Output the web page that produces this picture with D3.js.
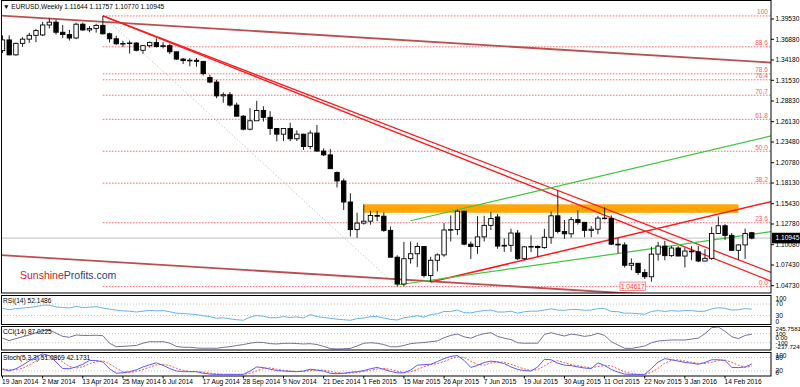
<!DOCTYPE html>
<html>
<head>
<meta charset="utf-8">
<script src="https://d3js.org/d3.v7.min.js"></script>
<style>
  body { margin: 0; background: #fff; }
  svg { display: block; }
  text { font-family: "Liberation Sans", Arial, sans-serif; }
</style>
</head>
<body>
<div id="vis"></div>
<script>
const WIDTH = 800;
const HEIGHT = 387;

// Velas semanales EURUSD, 19 Jan 2014 ... 13 Mar 2016 (una por semana)
const OPEN = [1.3540,1.3680,1.3485,1.3635,1.3690,1.3740,1.3745,1.3875,1.3912,1.3780,
  1.3750,1.3705,1.3885,1.3810,1.3830,1.3870,1.3760,1.3695,1.3630,1.3633,
  1.3640,1.3545,1.3605,1.3645,1.3595,1.3605,1.3525,1.3430,1.3410,1.3415,
  1.3400,1.3190,1.3130,1.2950,1.2965,1.2830,1.2685,1.2515,1.2625,1.2760,
  1.2670,1.2525,1.2450,1.2525,1.2390,1.2450,1.2290,1.2465,1.2230,1.2180,
  1.1950,1.1840,1.1565,1.1205,1.1290,1.1315,1.1390,1.1380,1.1195,1.0845,
  1.0495,1.0825,1.0890,1.0985,1.0605,1.0805,1.0875,1.1200,1.1205,1.1445,
  1.1015,1.0985,1.1110,1.1260,1.1370,1.0990,1.1000,1.1160,1.0825,1.0980,
  1.0985,1.0970,1.1105,1.1385,1.1180,1.1150,1.1335,1.1300,1.1195,1.1210,
  1.1355,1.1350,1.1015,1.1005,1.0740,1.0765,1.0645,1.0590,1.0885,1.0990,
  1.0865,1.0965,1.0860,1.0925,1.0915,1.0795,1.0830,1.1155,1.1255,1.1130,
  1.0935,1.1005,1.11644];
const HIGH = [1.3740,1.3740,1.3645,1.3715,1.3773,1.3825,1.3915,1.3967,1.3946,1.3875,
  1.3810,1.3905,1.3905,1.3860,1.3890,1.3993,1.3775,1.3735,1.3670,1.3670,
  1.3650,1.3615,1.3660,1.3700,1.3650,1.3630,1.3530,1.3445,1.3445,1.3445,
  1.3400,1.3225,1.3160,1.2995,1.3000,1.2860,1.2700,1.2790,1.2885,1.2815,
  1.2750,1.2530,1.2530,1.2600,1.2500,1.2455,1.2500,1.2570,1.2265,1.2255,
  1.1965,1.1870,1.1680,1.1425,1.1535,1.1450,1.1450,1.1428,1.1245,1.0870,
  1.1045,1.1050,1.1035,1.0990,1.0850,1.0895,1.1290,1.1390,1.1467,1.1450,
  1.1050,1.1380,1.1385,1.1435,1.1410,1.1090,1.1215,1.1200,1.0990,1.1130,
  1.1000,1.1215,1.1440,1.1715,1.1330,1.1370,1.1460,1.1300,1.1250,1.1385,
  1.1495,1.1390,1.1095,1.1040,1.0830,1.0770,1.0690,1.0980,1.1045,1.1060,
  1.0990,1.0990,1.0970,1.0990,1.0990,1.0950,1.1240,1.1375,1.1275,1.1160,
  1.1010,1.1218,1.11757];
const LOW = [1.3508,1.3480,1.3475,1.3590,1.3642,1.3650,1.3730,1.3830,1.3750,1.3705,
  1.3672,1.3690,1.3800,1.3780,1.3775,1.3750,1.3647,1.3615,1.3585,1.3502,
  1.3530,1.3500,1.3580,1.3580,1.3570,1.3495,1.3420,1.3365,1.3335,1.3330,
  1.3215,1.3115,1.2920,1.2860,1.2810,1.2680,1.2500,1.2500,1.2625,1.2615,
  1.2440,1.2357,1.2360,1.2360,1.2360,1.2245,1.2255,1.2220,1.2165,1.2000,
  1.1755,1.1460,1.1115,1.1098,1.1270,1.1270,1.1315,1.1175,1.0840,1.04617,
  1.0463,1.0760,1.0715,1.0580,1.0520,1.0660,1.0850,1.1050,1.1135,1.1000,
  1.0820,1.0888,1.1050,1.1200,1.0955,1.0915,1.0915,1.0810,1.0805,1.0910,
  1.0850,1.0955,1.1020,1.1155,1.1085,1.1100,1.1270,1.1105,1.1105,1.1145,
  1.1340,1.1005,1.0895,1.0710,1.0675,1.0615,1.0560,1.0525,1.0800,1.0805,
  1.0850,1.0860,1.0710,1.0805,1.0780,1.0790,1.0810,1.1150,1.1070,1.0935,
  1.0810,1.0822,1.10770];
const CLOSE = [1.3680,1.3485,1.3635,1.3690,1.3740,1.3802,1.3875,1.3912,1.3780,1.3750,
  1.3705,1.3885,1.3810,1.3830,1.3870,1.3760,1.3695,1.3630,1.3633,1.3640,
  1.3545,1.3605,1.3645,1.3595,1.3605,1.3525,1.3430,1.3410,1.3415,1.3400,
  1.3240,1.3130,1.2950,1.2965,1.2830,1.2685,1.2515,1.2625,1.2760,1.2670,
  1.2525,1.2450,1.2525,1.2390,1.2450,1.2290,1.2465,1.2230,1.2180,1.2000,
  1.1840,1.1565,1.1205,1.1290,1.1315,1.1390,1.1380,1.1195,1.0845,1.0495,
  1.0825,1.0890,1.0985,1.0605,1.0805,1.0875,1.1200,1.1205,1.1445,1.1015,
  1.0985,1.1110,1.1260,1.1350,1.0990,1.1000,1.1160,1.0825,1.0980,1.0985,
  1.0970,1.1105,1.1385,1.1180,1.1150,1.1335,1.1300,1.1195,1.1210,1.1355,
  1.1350,1.1015,1.1005,1.0740,1.0765,1.0645,1.0590,1.0885,1.0990,1.0865,
  1.0965,1.0860,1.0925,1.0915,1.0795,1.0830,1.1155,1.1255,1.1130,1.0935,
  1.1005,1.1155,1.10945];

// Indicadores
const RSI = [55,50,54,56,58,61,66,66,60,58, 56,62,58,59,61,56,52,49,46,45,
  42,45,48,46,47,43,38,37,35,33, 29,26,20,22,18,15,13,24,30,27,
  22,22,26,23,25,21,33,26,23,20, 17,15,13,19,21,26,26,21,16,14,
  22,25,29,24,33,36,44,44,49,40, 39,44,47,49,42,42,45,38,43,45,
  45,49,53,49,48,51,51,48,49,54, 54,44,43,38,38,36,34,44,47,44,
  47,45,47,47,44,45,53,57,55,49, 50,54,52.1486];
const CCI = [0,-55,-10,33,70,120,165,180,110,40, 20,70,60,60,65,55,-110,-187,-180,-171,
  -160,-110,-77,-80,-77,-110,-180,-200,-200,-215, -222,-220,-222,-200,-187,-160,-140,-110,-90,-95,
  -120,-127,-115,-112,-118,-127,-120,-140,-180,-228, -237.7249,-232,-225,-170,-112,-100,-112,-140,-187,-190,
  -160,-120,-105,-95,-77,-60,10,60,92,30, 0,60,100,121,40,0,-30,-100,-112,-110,
  -110,80,121,80,48,90,70,40,60,108, 60,-77,-150,-222,-225,-200,-171,-100,-62,-50,
  -40,-40,-40,-20,0,100,231,245.7581,150,33, -10,60,87.0225];
const STOCH_K = [27,21,30,46,65,82,96,88,60,31, 30,38,50,67,67,60,30,10,12,17,
  25,38,48,56,45,31,20,17,17,17, 10,6,5,5,5,5,5,20,38,35,
  28,22,20,18,17,20,28,24,20,10, 8,10,14,17,22,30,36,27,18,12,
  12,24,46,48,50,62,75,85,89,67, 36,45,58,64,60,53,38,27,22,20,
  38,72,70,55,46,44,38,33,31,56, 45,27,15,6,5,5,5,31,60,75,
  70,64,58,55,50,58,70,70,67,36, 35,38,51.0869];
const STOCH_D = [30,25,26,32,47,64,81,89,81,60, 40,33,39,52,61,65,52,33,17,13,
  18,27,37,47,50,44,32,23,18,17, 15,11,7,5,5,5,5,10,21,31,
  34,28,23,20,18,18,22,24,24,18, 13,9,11,14,18,23,29,31,27,19,
  14,16,27,39,48,53,62,74,83,80, 64,49,46,56,61,59,50,39,29,23,
  27,43,60,66,57,48,43,38,34,40, 44,43,29,16,9,5,5,14,32,55,
  68,70,64,59,54,54,59,66,69,58, 46,36,42.1731];

const PRICE_TICKS = [1.39530,1.36880,1.34180,1.31530,1.28830,1.26130,1.23480,
  1.20780,1.18130,1.15430,1.12780,1.10080,1.07430,1.04730];
const DATE_LABELS = ["19 Jan 2014","2 Mar 2014","13 Apr 2014","25 May 2014","6 Jul 2014",
  "17 Aug 2014","28 Sep 2014","9 Nov 2014","21 Dec 2014","1 Feb 2015","15 Mar 2015",
  "26 Apr 2015","7 Jun 2015","19 Jul 2015","30 Aug 2015","11 Oct 2015","22 Nov 2015",
  "3 Jan 2016","14 Feb 2016"];
const DATE_STEP = 6; // una etiqueta cada 6 semanas
const FIBO_LEVELS = [0, 23.6, 38.2, 50.0, 61.8, 70.7, 76.4, 78.6, 88.6, 100];

// Lineas dibujadas por el analista: [barra, precio]
const FIBO_ANCHORS = [[15, 1.3993], [59, 1.04617]];
const CANAL_SUP = [[0, 1.39967], [112, 1.33998]];
const CANAL_INF = [[0, 1.08717], [112, 1.02747]];
const ROJA_1 = [[15, 1.3993], [83, 1.1715]];
const ROJA_2 = [[15, 1.3993], [112, 1.0632]];
const ROJA_ALZA = [[64, 1.0520], [112, 1.1510]];
const VERDE_SUP = [[61, 1.1321], [112, 1.2368]];
const VERDE_INF = [[59, 1.0482], [112, 1.1143]];
const ZONA = [[54, 1.1535], [110, 1.1425]];
const LAST_PRICE = 1.10945;
const LOW_LABEL = "1.04617";

// Geometria de los paneles
const AXIS_X = 771;
const MAIN = { top: 0, bottom: 293 };
const P_RSI = { top: 295, bottom: 324.5 };
const P_CCI = { top: 326, bottom: 350 };
const P_STO = { top: 352, bottom: 376 };

const SVG = d3.select("#vis")
  .append("svg")
  .attr("width", WIDTH)
  .attr("height", HEIGHT);

const n = OPEN.length;
const x = d3.scaleLinear().domain([0, n - 1]).range([2.5, 751.8]);
const y = d3.scaleLinear().domain([1.04730, 1.39530]).range([285.7, 19]);
const yRsi = d3.scaleLinear().domain([0, 100]).range([P_RSI.bottom - 0.5, P_RSI.top + 0.5]);
const yCci = d3.scaleLinear().domain([-237.7249, 245.7581]).range([P_CCI.bottom - 1, P_CCI.top + 1]);
const ySto = d3.scaleLinear().domain([0, 100]).range([P_STO.bottom - 0.5, P_STO.top + 1]);

const defs = SVG.append("defs");
function clip(id, p) {
  defs.append("clipPath").attr("id", id)
    .append("rect").attr("x", 1).attr("y", p.top).attr("width", AXIS_X - 1).attr("height", p.bottom - p.top);
}
clip("c-main", MAIN); clip("c-rsi", P_RSI); clip("c-cci", P_CCI); clip("c-sto", P_STO);

const main = SVG.append("g").attr("clip-path", "url(#c-main)");

// zona naranja
main.append("rect")
  .attr("x", x(ZONA[0][0]))
  .attr("y", y(ZONA[0][1]))
  .attr("width", x(ZONA[1][0]) - x(ZONA[0][0]))
  .attr("height", y(ZONA[1][1]) - y(ZONA[0][1]))
  .attr("fill", "#ffa500");

// niveles de Fibonacci
const fHigh = FIBO_ANCHORS[0][1], fLow = FIBO_ANCHORS[1][1];
const fibPrice = l => fLow + (fHigh - fLow) * l / 100;
main.selectAll(".fib")
  .data(FIBO_LEVELS)
  .join("line")
  .attr("x1", x(FIBO_ANCHORS[0][0])).attr("x2", AXIS_X)
  .attr("y1", d => y(fibPrice(d))).attr("y2", d => y(fibPrice(d)))
  .attr("stroke", "#ff6a6a").attr("stroke-width", 1).attr("stroke-dasharray", "1.6,1.4");
main.append("line")
  .attr("x1", x(FIBO_ANCHORS[0][0])).attr("y1", y(FIBO_ANCHORS[0][1]))
  .attr("x2", x(FIBO_ANCHORS[1][0])).attr("y2", y(FIBO_ANCHORS[1][1]))
  .attr("stroke", "#c8c8c8").attr("stroke-width", 1).attr("stroke-dasharray", "1.5,2");

// linea de precio actual
main.append("line")
  .attr("x1", 0).attr("x2", AXIS_X)
  .attr("y1", y(LAST_PRICE)).attr("y2", y(LAST_PRICE))
  .attr("stroke", "#c0c0c0").attr("stroke-width", 1);

// lineas de tendencia, extendidas hasta el borde derecho
function trend(pts, fromBar, color, w) {
  const slope = (pts[1][1] - pts[0][1]) / (pts[1][0] - pts[0][0]);
  const endBar = x.invert(AXIS_X);
  const p = b => pts[0][1] + slope * (b - pts[0][0]);
  main.append("line")
    .attr("x1", x(fromBar)).attr("y1", y(p(fromBar)))
    .attr("x2", x(endBar)).attr("y2", y(p(endBar)))
    .attr("stroke", color).attr("stroke-width", w);
}
trend(CANAL_SUP, x.invert(0), "#b9504f", 1.8);
trend(CANAL_INF, x.invert(0), "#b9504f", 1.8);
trend(ROJA_1, ROJA_1[0][0], "#ff1a1a", 1.3);
trend(ROJA_2, ROJA_2[0][0], "#ff1a1a", 1.3);
trend(ROJA_ALZA, ROJA_ALZA[0][0], "#ff1a1a", 1.5);
trend(VERDE_SUP, VERDE_SUP[0][0], "#3cc83c", 1.2);
trend(VERDE_INF, VERDE_INF[0][0], "#3cc83c", 1.2);

// velas
const bars = d3.range(n).map(i => ({ i, o: OPEN[i], h: HIGH[i], l: LOW[i], c: CLOSE[i] }));
const cg = main.append("g");
cg.selectAll(".wick")
  .data(bars)
  .join("line")
  .attr("x1", d => x(d.i)).attr("x2", d => x(d.i))
  .attr("y1", d => y(d.h)).attr("y2", d => y(d.l))
  .attr("stroke", "#222").attr("stroke-width", 1);
cg.selectAll(".body")
  .data(bars)
  .join("rect")
  .attr("x", d => x(d.i) - 2.2)
  .attr("width", 4.4)
  .attr("y", d => y(Math.max(d.o, d.c)))
  .attr("height", d => Math.max(0.6, Math.abs(y(d.o) - y(d.c))))
  .attr("fill", d => d.c >= d.o ? "#fff" : "#000")
  .attr("stroke", "#000").attr("stroke-width", 0.9);

// etiquetas fibo
SVG.selectAll(".fibtxt")
  .data(FIBO_LEVELS)
  .join("text")
  .attr("x", 768).attr("y", d => y(fibPrice(d)) - 1.5)
  .attr("text-anchor", "end")
  .attr("font-size", 6.6)
  .attr("fill", "#ff5a5a")
  .text(d => d == 0 ? "0.0" : d == 100 ? "100" : d.toFixed(1));

// etiqueta del minimo
const lowG = SVG.append("g").attr("transform", `translate(${x(92.3)}, ${y(fLow)})`);
lowG.append("rect").attr("x", 0).attr("y", -4.5).attr("width", 25.5).attr("height", 8.5)
  .attr("fill", "#fff").attr("stroke", "#ff7070").attr("stroke-width", 0.8);
lowG.append("text").attr("x", 12.75).attr("y", 2.4).attr("text-anchor", "middle")
  .attr("font-size", 6.6).attr("fill", "#ff3030").text(LOW_LABEL);

// marca de agua
const wm = SVG.append("text").attr("x", 20).attr("y", 279).attr("font-size", 10.5);
wm.append("tspan").attr("fill", "#d42020").text("Sunshine");
wm.append("tspan").attr("fill", "#23408e").text("Profits.com");

// titulo
SVG.append("text").attr("x", 3).attr("y", 9).attr("font-size", 6.6).attr("fill", "#000")
  .text("\u25BC EURUSD,Weekly  1.11644 1.11757 1.10770 1.10945");

// eje de precios
const ax = SVG.append("g");
ax.selectAll(".pt")
  .data(PRICE_TICKS)
  .join("text")
  .attr("x", 775.5).attr("y", d => y(d) + 2.4)
  .attr("font-size", 6.6).attr("fill", "#000")
  .text(d => d.toFixed(5));
ax.selectAll(".ptk")
  .data(PRICE_TICKS)
  .join("line")
  .attr("x1", AXIS_X).attr("x2", AXIS_X + 3)
  .attr("y1", d => y(d)).attr("y2", d => y(d))
  .attr("stroke", "#000");
ax.append("rect").attr("x", AXIS_X + 1).attr("y", y(LAST_PRICE) - 5.3)
  .attr("width", 28).attr("height", 10.6).attr("fill", "#000");
ax.append("text").attr("x", 775.5).attr("y", y(LAST_PRICE) + 2.4)
  .attr("font-size", 6.6).attr("fill", "#fff").text(LAST_PRICE.toFixed(5));

// subventanas
function panelLine(p, clipId, scale, values, color, dash) {
  SVG.append("path")
    .attr("clip-path", `url(#${clipId})`)
    .attr("d", d3.line().x((d, i) => x(i)).y(d => scale(d))(values))
    .attr("fill", "none").attr("stroke", color).attr("stroke-width", 1)
    .attr("stroke-dasharray", dash || null);
}
function levels(scale, vals, clipId) {
  SVG.append("g").attr("clip-path", `url(#${clipId})`)
    .selectAll("line").data(vals).join("line")
    .attr("x1", 1).attr("x2", AXIS_X)
    .attr("y1", d => scale(d)).attr("y2", d => scale(d))
    .attr("stroke", "#c4c4c4").attr("stroke-dasharray", "1,2");
}
function sideLabels(items, size) {
  SVG.append("g").selectAll("text").data(items).join("text")
    .attr("x", 775.5).attr("y", d => d[1] + 2.3)
    .attr("font-size", size || 6.6).attr("fill", "#000")
    .text(d => d[0]);
}

levels(yRsi, [70, 30], "c-rsi");
panelLine(P_RSI, "c-rsi", yRsi, RSI, "#63b3f0");
sideLabels([["100", yRsi(100) + 2.8], ["70", yRsi(70)], ["30", yRsi(30)], ["0", yRsi(0) - 2.3]]);

levels(yCci, [100, -100], "c-cci");
panelLine(P_CCI, "c-cci", yCci, CCI, "#7272a2");
sideLabels([["245.7581", yCci(245.7581) + 2], ["100", yCci(100)], ["0.00", yCci(0)],
  ["-100", yCci(-100)], ["-237.7249", yCci(-237.7249) - 2.5]], 6.1);

levels(ySto, [80, 20], "c-sto");
panelLine(P_STO, "c-sto", ySto, STOCH_D, "#ff5050", "2,1.5");
panelLine(P_STO, "c-sto", ySto, STOCH_K, "#5a5aff");
sideLabels([["100", ySto(100) + 2.5], ["80", ySto(80) + 0.5], ["20", ySto(20) - 0.5], ["0", ySto(0) - 2.5]]);

const tl = SVG.append("g");
tl.append("text").attr("x", 3).attr("y", P_RSI.top + 8).attr("font-size", 6.6).text("RSI(14) 52.1486");
tl.append("text").attr("x", 3).attr("y", P_CCI.top + 8).attr("font-size", 6.6).text("CCI(14) 87.0225");
tl.append("text").attr("x", 3).attr("y", P_STO.top + 8).attr("font-size", 6.6).text("Stoch(5,3,3) 51.0869 42.1731");

// bordes
const frame = SVG.append("g").attr("fill", "none").attr("stroke", "#000");
[MAIN, P_RSI, P_CCI, P_STO].forEach(p => {
  frame.append("rect").attr("x", 1.5).attr("y", p.top + 0.5)
    .attr("width", AXIS_X - 1.5).attr("height", p.bottom - p.top - 0.5);
});

// eje de tiempo
const dg = SVG.append("g");
dg.selectAll("text").data(DATE_LABELS).join("text")
  .attr("x", (d, i) => x(i * DATE_STEP) - 0.5)
  .attr("y", 383.5)
  .attr("font-size", 6.6).attr("fill", "#000")
  .text(d => d);
dg.selectAll("line").data(DATE_LABELS).join("line")
  .attr("x1", (d, i) => x(i * DATE_STEP)).attr("x2", (d, i) => x(i * DATE_STEP))
  .attr("y1", P_STO.bottom).attr("y2", P_STO.bottom + 2.5)
  .attr("stroke", "#000");
</script>
</body>
</html>
